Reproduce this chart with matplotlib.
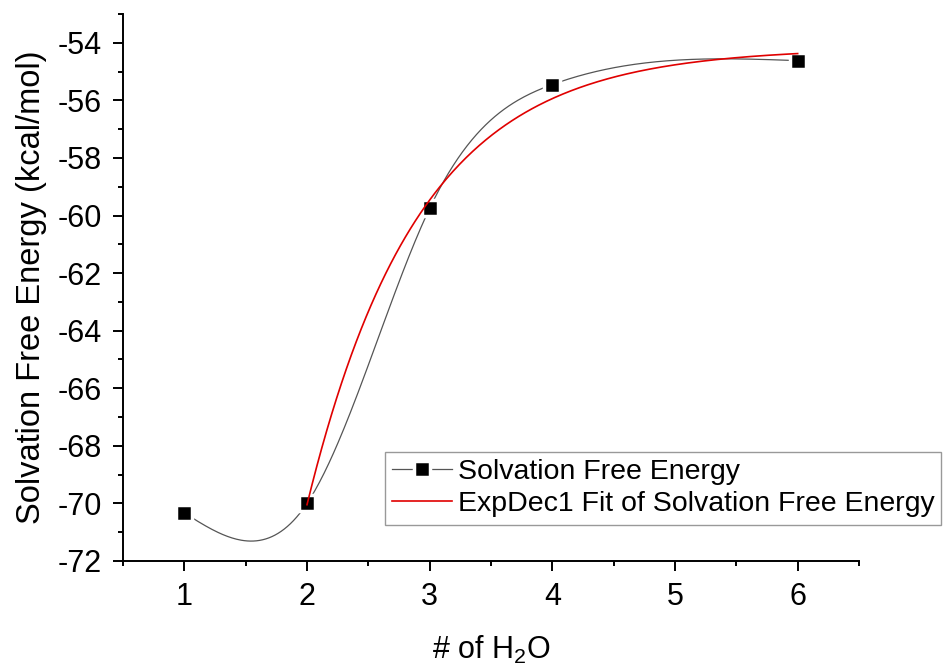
import numpy as np
import matplotlib
matplotlib.use("Agg")
import matplotlib.pyplot as plt
from matplotlib.ticker import MultipleLocator

plt.rcParams['font.family'] = ['Liberation Sans', 'DejaVu Sans']
plt.rcParams['mathtext.fontset'] = 'custom'
plt.rcParams['mathtext.rm'] = 'Liberation Sans'
plt.rcParams['mathtext.it'] = 'Liberation Sans:italic'
plt.rcParams['axes.unicode_minus'] = False

# Data
n_water = [1, 2, 3, 4, 6]
energy = [-70.33, -70.0, -59.75, -55.45, -54.62]
series_label = "Solvation Free Energy"
fit_label = "ExpDec1 Fit of Solvation Free Energy"


def natural_spline(x, y, xs):
    x = np.asarray(x, float); y = np.asarray(y, float)
    n = len(x)
    h = np.diff(x)
    A = np.zeros((n, n)); b = np.zeros(n)
    A[0, 0] = 1; A[-1, -1] = 1
    for i in range(1, n - 1):
        A[i, i - 1] = h[i - 1]
        A[i, i] = 2 * (h[i - 1] + h[i])
        A[i, i + 1] = h[i]
        b[i] = 3 * ((y[i + 1] - y[i]) / h[i] - (y[i] - y[i - 1]) / h[i - 1])
    c = np.linalg.solve(A, b)
    out = np.empty_like(xs)
    for k, xv in enumerate(xs):
        i = min(np.searchsorted(x, xv, side='right') - 1, n - 2)
        i = max(i, 0)
        dx = xv - x[i]
        bi = (y[i + 1] - y[i]) / h[i] - h[i] * (2 * c[i] + c[i + 1]) / 3
        di = (c[i + 1] - c[i]) / (3 * h[i])
        out[k] = y[i] + bi * dx + c[i] * dx ** 2 + di * dx ** 3
    return out


# ExpDec1 fit y = y0 + A*exp(-x/t) on points x>=2
fx = np.array(n_water[1:], float)
fy = np.array(energy[1:], float)
best = None
for t in np.linspace(0.2, 5, 4000):
    M = np.column_stack([np.ones_like(fx), np.exp(-fx / t)])
    coef, *_ = np.linalg.lstsq(M, fy, rcond=None)
    r = np.sum((M @ coef - fy) ** 2)
    if best is None or r < best[0]:
        best = (r, t, coef)
_, tf, (y0, Af) = best

fig = plt.figure(figsize=(9.43, 6.67), dpi=100)
ax = fig.add_axes([123 / 943, 1 - 561 / 667, (859 - 123) / 943, (561 - 14) / 667])

mk = dict(marker='s', ms=11, mfc='black', mec='white', mew=2.5)
xs = np.linspace(min(n_water), max(n_water), 400)
ax.plot(xs, natural_spline(n_water, energy, xs), color='#555555', lw=0.9, zorder=2)
ax.plot([], [], color='#555555', lw=0.9, label=series_label, **mk)
ax.plot(n_water, energy, linestyle='none', zorder=4, **mk)
xf = np.linspace(2, 6, 300)
ax.plot(xf, y0 + Af * np.exp(-xf / tf), color='#e00000', lw=1.2, zorder=5, label=fit_label)

ax.set_xlim(0.5, 6.5)
ax.set_ylim(-72, -53)
ax.xaxis.set_minor_locator(MultipleLocator(0.5))
ax.yaxis.set_minor_locator(MultipleLocator(1))
ax.set_xticks([1, 2, 3, 4, 5, 6])
ax.set_yticks(np.arange(-72, -53, 2))
for s in ['top', 'right']:
    ax.spines[s].set_visible(False)
for s in ['left', 'bottom']:
    ax.spines[s].set_linewidth(1.4)
ax.tick_params(which='major', direction='out', length=7, width=1.4, labelsize=22, pad=8)
ax.tick_params(which='minor', direction='out', length=3.5, width=1.4)

ax.set_xlabel("# of H$_\\mathregular{2}$O", fontsize=22, labelpad=16)
ax.set_ylabel("Solvation Free Energy (kcal/mol)", fontsize=23.5, labelpad=8)

leg = ax.legend(loc='upper left', bbox_to_anchor=(385 / 943, 1 - 452 / 667),
                bbox_transform=fig.transFigure, fontsize=20.5, frameon=True,
                fancybox=False, edgecolor='#808080', handlelength=2.1,
                handletextpad=0.2, borderpad=0.25, labelspacing=0.22,
                borderaxespad=0)
leg.get_frame().set_linewidth(1.0)

fig.savefig("out.png", dpi=100)
